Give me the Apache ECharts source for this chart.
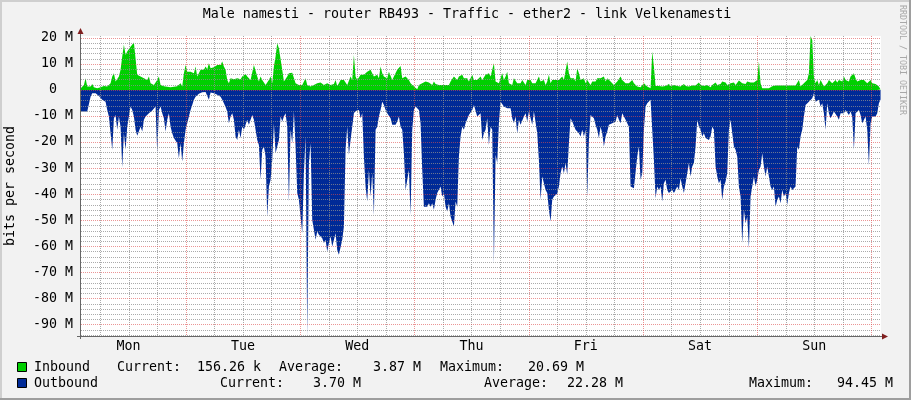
<!DOCTYPE html>
<html><head><meta charset="utf-8">
<script src="https://cdn.jsdelivr.net/npm/echarts@6/dist/echarts.min.js"></script>
<style>html,body{margin:0;padding:0;background:#f2f2f2}#c{width:911px;height:400px}</style>
</head><body><div id="c"></div><script>
const chartTitle = 'Male namesti - router RB493 - Traffic - ether2 - link Velkenamesti';
const yAxisTitle = 'bits per second';
const watermark = 'RRDTOOL / TOBI OETIKER';
const dayLabels = ['Mon','Tue','Wed','Thu','Fri','Sat','Sun'];
const dayLabelHours = [12,36,60,84,108,132,156];
const dayBoundaryHours = [24,48,72,96,120,144,168];
const minorGridHours = [6,12,18,30,36,42,54,60,66,78,84,90,102,108,114,126,132,138,150,156,162];
const yMajorTicks = [-90,-80,-70,-60,-50,-40,-30,-20,-10,0,10,20];
const yMinorTicks = [-94,-92,-88,-86,-84,-82,-78,-76,-74,-72,-68,-66,-64,-62,-58,-56,-54,-52,-48,-46,-44,-42,-38,-36,-34,-32,-28,-26,-24,-22,-18,-16,-14,-12,-8,-6,-4,-2,2,4,6,8,12,14,16,18];
const hourMin = 2, hourMax = 170;
const valueMin = -94.45, valueMax = 20.69;
// samples (Mbit/s), hours counted from Monday 00:00
const sampleStartHour = 1.91, sampleStepHours = 0.35;
const inbound = [
0.6,1.3,1.9,4.5,1.3,1.3,1.3,2.3,1.0,0.8,
0.6,0.8,1.0,1.3,1.5,1.3,1.3,1.9,2.6,5.1,
6.4,3.2,3.8,5.1,7.7,12.8,17.3,13.4,14.7,15.3,
16.6,17.3,18.2,17.9,5.8,6.4,5.1,5.8,4.5,5.1,
3.8,5.1,2.6,3.2,1.9,1.3,3.8,5.1,1.9,1.3,
1.4,1.5,1.2,1.0,1.0,1.0,1.2,1.3,1.4,1.5,
2.6,1.3,6.4,9.6,7.0,7.7,7.0,7.7,6.4,9.0,
5.1,5.8,7.7,8.3,7.7,9.0,7.9,10.2,8.3,9.0,
8.7,8.3,9.6,9.0,9.6,10.9,9.0,7.7,3.8,2.6,
4.5,3.8,4.1,3.8,4.5,3.8,4.1,5.1,4.5,6.1,
5.1,5.1,3.8,4.5,9.6,9.0,5.1,3.2,5.1,3.8,
3.2,1.9,2.6,3.8,5.1,2.6,9.0,12.8,17.9,16.0,
15.3,7.7,3.2,3.8,5.1,6.4,7.0,6.6,7.0,2.6,
1.9,1.9,1.3,1.9,2.6,4.5,1.9,1.5,1.3,1.5,
1.9,2.3,2.6,2.3,2.8,2.3,1.9,2.3,2.6,2.3,
1.9,2.1,2.3,3.8,1.5,2.6,3.8,4.5,3.8,3.8,
1.9,2.6,5.1,3.8,13.4,5.1,3.8,4.5,5.8,5.1,
5.8,6.4,7.0,6.4,7.7,6.4,5.1,4.5,5.8,4.5,
9.0,6.4,5.1,5.8,4.5,7.0,6.4,3.8,5.1,4.5,
7.7,7.0,9.2,4.5,3.8,5.1,4.5,3.8,2.6,1.9,
1.3,0.6,0.3,1.9,1.3,2.6,1.9,3.2,3.8,2.8,
2.6,1.9,3.2,2.3,1.9,1.9,1.5,1.9,1.5,1.9,
1.5,1.9,3.2,3.8,5.1,4.5,3.8,5.1,4.5,5.8,
4.5,3.8,4.5,3.2,2.6,5.8,3.8,3.2,3.8,4.5,
5.1,3.8,4.5,5.8,5.1,6.4,5.1,7.7,10.2,3.2,
2.6,2.6,3.2,6.4,3.8,5.1,7.0,2.6,1.9,1.9,
4.5,3.8,2.6,3.2,2.6,3.8,3.2,1.9,3.8,3.2,
3.8,2.6,1.9,2.6,1.9,5.1,3.2,2.6,3.8,1.9,
3.2,5.8,2.6,3.8,3.2,3.8,3.2,3.8,3.8,5.1,
3.8,3.8,10.9,6.4,4.5,3.8,4.5,3.2,8.3,6.4,
3.8,3.2,4.5,2.6,3.8,3.2,1.9,3.2,3.8,3.2,
4.5,3.8,4.5,3.8,5.1,3.2,4.5,3.8,3.2,2.6,
1.9,2.6,3.2,3.8,5.1,3.8,3.2,2.6,3.2,2.6,
1.9,3.8,2.6,1.9,1.3,0.6,1.0,0.6,2.6,3.2,
1.3,1.9,0.6,14.7,9.0,1.5,1.9,1.5,1.5,1.3,
1.3,1.5,1.9,2.3,1.5,1.7,1.9,1.7,1.5,1.7,
1.3,1.9,2.3,1.5,1.9,1.3,1.9,1.7,1.5,1.7,
2.3,2.8,1.9,2.3,1.5,1.7,1.9,1.5,1.0,1.9,
2.6,2.8,1.9,2.6,2.3,3.2,2.6,2.8,1.9,2.6,
2.6,2.3,2.8,1.9,1.3,3.6,3.2,2.6,2.8,2.3,
3.2,2.6,2.8,2.3,2.8,3.2,3.8,10.9,2.6,0.6,
0.6,0.6,0.6,0.6,1.3,1.4,1.5,1.7,1.9,1.7,
1.5,1.7,1.9,1.7,1.5,1.7,1.9,1.7,1.5,1.7,
1.9,3.8,1.3,2.0,2.6,3.2,3.8,6.4,20.69,19.2,
5.0,2.6,3.8,1.9,3.8,2.6,1.3,1.9,2.6,3.8,
3.2,2.6,1.9,3.8,2.8,3.8,4.5,3.2,5.1,3.8,
4.5,3.2,5.1,5.8,6.4,4.5,3.2,2.6,3.8,4.5,
3.8,3.2,2.6,3.2,3.8,2.6,1.9,2.3,1.9,1.3,
0.16];
const outbound = [
-8.3,-8.3,-8.3,-8.3,-8.3,-8.3,-2.6,-1.3,-1.3,-1.3,
-1.9,-2.3,-2.6,-3.8,-4.1,-4.5,-7.7,-10.2,-10.9,-23.0,
-10.9,-9.6,-15.3,-10.2,-14.1,-29.7,-16.6,-23.0,-14.1,-10.2,
-6.4,-7.7,-10.2,-15.3,-17.6,-17.9,-14.1,-16.0,-11.5,-10.2,
-9.6,-9.0,-8.3,-7.9,-7.7,-6.4,-24.3,-7.7,-6.4,-9.0,
-10.9,-16.0,-11.5,-9.0,-14.1,-16.6,-18.5,-17.9,-20.5,-26.2,
-20.5,-27.5,-20.5,-15.3,-12.8,-10.2,-7.7,-5.8,-3.8,-2.6,
-1.9,-1.5,-1.3,-0.9,-0.6,-0.8,-1.0,-3.8,-1.0,-1.2,
-1.3,-1.5,-1.9,-2.3,-2.6,-3.8,-5.1,-6.6,-8.3,-12.8,
-10.2,-9.0,-11.5,-17.9,-19.2,-15.3,-18.5,-14.1,-15.3,-14.7,
-11.5,-13.4,-11.5,-9.6,-11.5,-15.3,-19.2,-21.1,-34.5,-23.0,
-21.7,-25.6,-48.6,-37.1,-34.5,-26.9,-12.8,-24.3,-21.7,-19.2,
-10.2,-12.1,-10.2,-9.0,-14.1,-42.8,-15.3,-20.5,-8.3,-21.7,
-39.6,-42.2,-42.8,-55.0,-32.0,-17.9,-94.45,-28.1,-20.5,-49.9,
-53.7,-57.5,-54.3,-55.6,-56.3,-56.9,-58.8,-57.5,-62.0,-58.8,
-56.3,-60.1,-59.5,-55.0,-61.4,-63.3,-63.9,-57.5,-52.4,-23.0,
-14.1,-24.9,-19.2,-14.1,-9.0,-8.1,-7.4,-7.7,-10.9,-9.0,
-25.6,-37.1,-42.8,-30.7,-40.9,-32.0,-48.0,-15.3,-14.1,-10.2,
-7.7,-4.5,-5.8,-7.7,-9.0,-9.0,-10.9,-13.4,-14.1,-13.4,
-12.1,-10.2,-14.1,-15.3,-24.3,-38.4,-39.0,-30.7,-48.0,-15.3,
-7.7,-6.4,-5.8,-7.7,-12.8,-30.7,-44.8,-44.8,-44.8,-43.5,
-44.8,-43.5,-46.0,-42.2,-39.6,-39.6,-37.1,-40.9,-39.6,-44.8,
-46.7,-43.5,-48.6,-50.5,-52.4,-42.8,-44.8,-25.6,-17.9,-14.1,
-15.3,-12.8,-12.1,-9.6,-9.0,-7.7,-5.8,-6.4,-10.2,-9.6,
-9.0,-19.2,-16.6,-15.3,-10.9,-21.1,-14.1,-15.3,-66.5,-24.9,
-28.1,-12.8,-4.5,-5.1,-6.4,-7.0,-7.0,-6.4,-7.0,-10.9,
-12.8,-10.2,-16.6,-11.5,-13.4,-14.1,-10.2,-9.0,-12.1,-8.3,
-7.7,-13.4,-8.3,-7.7,-16.6,-26.9,-42.2,-33.2,-33.9,-38.4,
-39.6,-46.0,-50.5,-42.2,-40.9,-40.3,-39.9,-37.1,-32.0,-29.4,
-32.0,-28.1,-32.6,-20.5,-10.9,-12.1,-12.8,-15.3,-15.3,-16.6,
-17.9,-15.3,-17.9,-15.3,-40.9,-19.2,-9.6,-10.2,-10.9,-13.4,
-15.3,-18.5,-14.1,-16.6,-21.7,-17.9,-16.0,-13.4,-14.1,-12.8,
-12.8,-12.1,-9.6,-11.5,-12.8,-9.0,-9.0,-11.5,-12.8,-14.1,
-37.1,-37.7,-37.7,-37.1,-25.6,-21.7,-34.5,-32.0,-15.3,-6.4,
-5.1,-5.1,-3.8,-3.2,-26.9,-41.6,-37.1,-38.4,-37.1,-42.8,
-35.8,-34.5,-38.4,-39.6,-40.3,-38.4,-39.6,-38.4,-37.1,-38.4,
-33.9,-37.1,-39.6,-35.8,-32.0,-28.1,-33.2,-29.4,-28.1,-21.7,
-11.5,-14.1,-15.3,-17.9,-16.6,-18.5,-17.9,-19.2,-17.9,-14.1,
-15.3,-29.4,-33.2,-35.8,-34.5,-42.2,-37.1,-35.2,-32.0,-15.3,
-11.5,-11.5,-21.7,-23.0,-25.6,-37.1,-40.9,-58.8,-46.0,-51.2,
-48.6,-60.7,-40.9,-40.9,-33.2,-37.1,-34.5,-30.7,-29.4,-24.3,
-29.4,-33.2,-29.4,-33.2,-37.1,-38.4,-37.1,-44.8,-42.2,-40.9,
-43.5,-38.4,-40.9,-39.6,-44.1,-39.6,-37.1,-38.4,-38.4,-37.1,
-21.7,-23.0,-17.9,-15.3,-10.2,-5.8,-5.1,-4.5,-3.8,-3.2,
-1.3,-4.5,-5.1,-3.8,-6.4,-5.1,-9.0,-15.3,-5.1,-9.0,
-10.9,-9.6,-8.3,-7.7,-10.2,-11.5,-9.0,-8.3,-9.0,-7.7,
-8.3,-9.6,-8.3,-10.2,-23.0,-9.0,-9.6,-7.7,-9.6,-12.8,
-13.4,-10.2,-15.3,-28.8,-12.8,-10.2,-9.6,-10.2,-9.0,-5.1,
-3.7];
const legendInbound = ['Inbound','Current:','156.26 k','Average:','3.87 M','Maximum:','20.69 M'];
const legendOutbound = ['Outbound','Current:','3.70 M','Average:','22.28 M','Maximum:','94.45 M'];

// layout (not data)
const legendInX = [34,117,197,279,373,440,528];
const legendOutX = [34,220,313,484,567,749,837];
const FONT = '"DejaVu Sans Mono", monospace';
const FS = 13.3;
const COL_IN = '#00cf00', COL_OUT = '#002a97';
const MINOR = 'rgba(143,143,143,0.75)', MAJOR = 'rgba(222,79,79,0.6)';

const toPairs = arr => arr.map((v, i) => [+(sampleStartHour + i * sampleStepHours).toFixed(3), v]);

const chart = echarts.init(document.getElementById('c'), null, {renderer: 'canvas'});

const graphics = [];
graphics.push({type:'rect', shape:{x:0,y:0,width:911,height:2}, style:{fill:'#cfcfcf'}, silent:true});
graphics.push({type:'rect', shape:{x:0,y:0,width:2,height:400}, style:{fill:'#cfcfcf'}, silent:true});
graphics.push({type:'rect', shape:{x:0,y:398,width:911,height:2}, style:{fill:'#9e9e9e'}, silent:true});
graphics.push({type:'rect', shape:{x:909,y:0,width:2,height:400}, style:{fill:'#9e9e9e'}, silent:true});
graphics.push({type:'text', x:467, y:15, style:{text:chartTitle, font:FS+'px '+FONT, fill:'#000', textAlign:'center', textVerticalAlign:'middle'}, silent:true});
graphics.push({type:'text', x:10.5, y:186, rotation:Math.PI/2, style:{text:yAxisTitle, font:FS+'px '+FONT, fill:'#000', textAlign:'center', textVerticalAlign:'middle'}, silent:true});
graphics.push({type:'text', x:902, y:5, rotation:-Math.PI/2, style:{text:watermark, font:'8.3px '+FONT, fill:'#a8a8a8', textAlign:'left', textVerticalAlign:'middle'}, silent:true});
graphics.push({type:'line', shape:{x1:77,y1:336.5,x2:883,y2:336.5}, style:{stroke:'#666',lineWidth:1}, z:10, silent:true});
graphics.push({type:'line', shape:{x1:80.5,y1:339,x2:80.5,y2:32}, style:{stroke:'#666',lineWidth:1}, z:10, silent:true});
graphics.push({type:'polygon', shape:{points:[[77.5,34],[83.5,34],[80.5,28]]}, style:{fill:'#801f1f'}, z:10, silent:true});
graphics.push({type:'polygon', shape:{points:[[882,333.5],[882,339.5],[888,336.5]]}, style:{fill:'#801f1f'}, z:10, silent:true});
[[legendInbound, legendInX, 368, COL_IN], [legendOutbound, legendOutX, 384, COL_OUT]].forEach(([items, xs, y, col]) => {
  graphics.push({type:'rect', shape:{x:17.5,y:y-5.5,width:9,height:9}, style:{fill:col, stroke:'#000', lineWidth:1}, silent:true});
  items.forEach((t, i) => graphics.push({type:'text', x:xs[i], y:y, style:{text:t, font:FS+'px '+FONT, fill:'#000', textAlign:'left', textVerticalAlign:'middle'}, silent:true}));
});

// grid lines drawn through the axis scales, on top of the areas (as rrdtool does)
const gridSeries = (name, vals, vertical, color, z) => ({
  name: name, type: 'custom', silent: true, z: z, clip: false,
  data: vals.map(v => vertical ? [v, 0] : [hourMin + 1, v]),
  encode: {x: 0, y: 1},
  renderItem: (params, api) => {
    const cs = params.coordSys;
    const p = api.coord([api.value(0), api.value(1)]);
    let shape;
    if (vertical) {
      const x = Math.round(p[0]) + 0.5;
      shape = {x1: x, y1: cs.y, x2: x, y2: cs.y + cs.height};
    } else {
      const y = Math.round(p[1]) + 0.5;
      shape = {x1: cs.x, y1: y, x2: cs.x + cs.width, y2: y};
    }
    return {type: 'line', shape: shape, style: {stroke: color, fill: null, lineWidth: 1, lineDash: [1, 1]}};
  }
});

chart.setOption({
  animation: false,
  backgroundColor: '#f2f2f2',
  grid: {left: 81, top: 36, width: 800, height: 300, show: true, backgroundColor: '#ffffff', borderWidth: 0},
  xAxis: {type:'value', min:hourMin, max:hourMax, position:'bottom',
     axisLine:{show:false}, axisTick:{show:false}, splitLine:{show:false},
     axisLabel:{show:true, customValues:dayLabelHours, margin:4, color:'#000', fontFamily:FONT, fontSize:FS,
       formatter: v => dayLabels[dayLabelHours.indexOf(Math.round(v))] || ''}},
  yAxis: {type:'value', min:valueMin, max:valueMax, position:'left',
     axisLine:{show:false}, axisTick:{show:false}, splitLine:{show:false},
     axisLabel:{show:true, customValues:yMajorTicks, margin:8, color:'#000', fontFamily:FONT, fontSize:FS,
       formatter: v => { const r = Math.round(v); return r === 0 ? '0  ' : r + ' M'; }}},
  series: [
    {name:'Inbound', type:'line', data:toPairs(inbound), showSymbol:false, symbol:'none',
     lineStyle:{width:0}, areaStyle:{color:COL_IN, opacity:1}, z:2, silent:true},
    {name:'Outbound', type:'line', data:toPairs(outbound), showSymbol:false, symbol:'none',
     lineStyle:{width:0}, areaStyle:{color:COL_OUT, opacity:1}, z:2, silent:true},
    gridSeries('gx', minorGridHours, true, MINOR, 4),
    gridSeries('gy', yMinorTicks, false, MINOR, 4),
    gridSeries('mx', dayBoundaryHours, true, MAJOR, 5),
    gridSeries('my', yMajorTicks, false, MAJOR, 5)
  ],
  graphic: graphics
});
</script></body></html>
